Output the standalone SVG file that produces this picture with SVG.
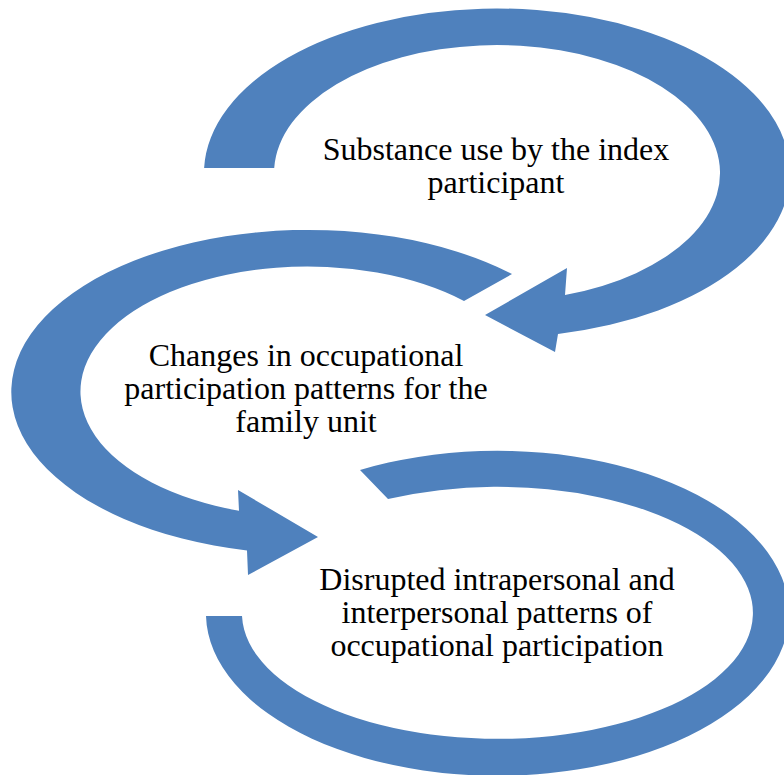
<svg xmlns="http://www.w3.org/2000/svg" width="784" height="775" viewBox="0 0 784 775">
  <style>
    .arc { fill: #4F81BD; stroke: none; }
    .lbl { font-family: "Liberation Serif", "Times New Roman", serif; font-size: 32px; fill: #000000; text-anchor: middle; }
  </style>
  <rect width="784" height="775" fill="#ffffff"/>
  <g id="connectors">
    <path id="arrow1" class="arc" d="M204.1,168 A293,164.5 0 1 1 558,333.9 L555,352 L485,315 L567,268 L565,295 A223,128 0 1 0 274.2,168 Z"/>
    <path id="arrow2" class="arc" d="M512,274 A297,162 0 1 0 247,550.4 L248,575 L318,537 L238,490 L239,510.7 A227,125 0 1 1 464,301 Z"/>
    <path id="arc3" class="arc" d="M360,470 A291.5,162.5 0 1 1 206,616 L242,616 A255.5,126 0 1 0 388,499 Z"/>
  </g>
  <g id="node-substance">
    <text class="lbl" x="496" y="160">Substance use by the index</text>
    <text class="lbl" x="496" y="193">participant</text>
  </g>
  <g id="node-changes">
    <text class="lbl" x="306" y="366">Changes in occupational</text>
    <text class="lbl" x="306" y="399">participation patterns for the</text>
    <text class="lbl" x="306" y="432">family unit</text>
  </g>
  <g id="node-disrupted">
    <text class="lbl" x="497" y="590">Disrupted intrapersonal and</text>
    <text class="lbl" x="497" y="623">interpersonal patterns of</text>
    <text class="lbl" x="497" y="656">occupational participation</text>
  </g>
</svg>
